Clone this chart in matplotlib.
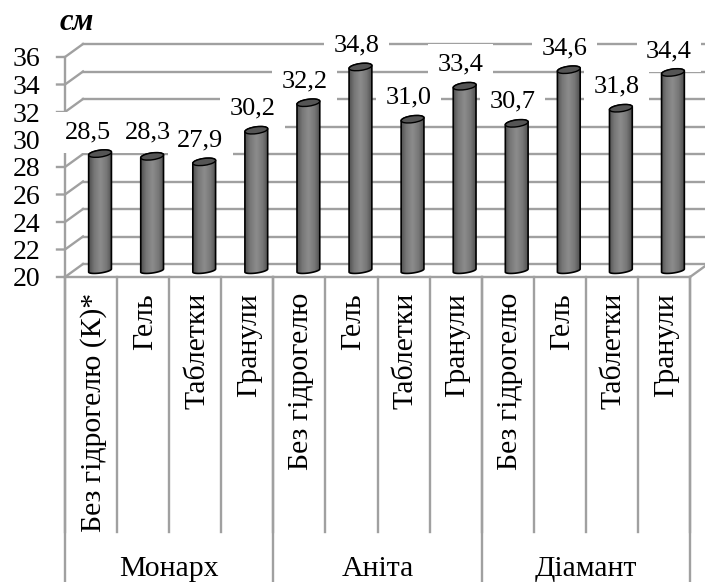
import numpy as np
import matplotlib
matplotlib.use('Agg')
import matplotlib.pyplot as plt
from matplotlib.patches import Ellipse, Polygon
from matplotlib.transforms import IdentityTransform, ScaledTranslation
from matplotlib.colors import LinearSegmentedColormap

# довжина пагонів за сортами і формами гідрогелю
groups = ['Монарх', 'Аніта', 'Діамант']
group_size = [4, 4, 4]
categories = ['Без гідрогелю (К)*', 'Гель', 'Таблетки', 'Гранули',
              'Без гідрогелю', 'Гель', 'Таблетки', 'Гранули',
              'Без гідрогелю', 'Гель', 'Таблетки', 'Гранули']
values = [28.5, 28.3, 27.9, 30.2, 32.2, 34.8, 31.0, 33.4, 30.7, 34.6, 31.8, 34.4]
y_ticks = [20, 22, 24, 26, 28, 30, 32, 34, 36]

W, H = 705, 582
GRAY = '#a0a0a0'
LW = 1.7

plt.rcParams['font.family'] = ['Liberation Serif', 'DejaVu Serif']

fig = plt.figure(figsize=(W / 100, H / 100), dpi=100)
# передня площина осей, все інше зсувається від неї
ax = fig.add_axes([65 / W, (H - 277) / H, 625 / W, 220 / H])
ax.set_xlim(0, len(values))
ax.set_ylim(20, 36)
ax.patch.set_visible(False)

for side in ['top', 'right']:
    ax.spines[side].set_visible(False)
for side in ['left', 'bottom']:
    ax.spines[side].set_color(GRAY)
    ax.spines[side].set_linewidth(LW)
    ax.spines[side].set_zorder(2)

# зсув задньої стінки
back = ax.transData + ScaledTranslation(18 / 100, 13 / 100, fig.dpi_scale_trans)
for t in y_ticks:
    ax.plot([0, len(values) + 0.05], [t, t], color=GRAY, lw=LW, transform=back,
            clip_on=False, zorder=1)
    # діагональ бічної стінки та риска поділки
    p0 = ax.transData.transform((0, t))
    ax.plot([p0[0] - 8, p0[0], p0[0] + 18], [p0[1], p0[1], p0[1] + 13], color=GRAY, lw=LW,
            transform=IdentityTransform(), clip_on=False, zorder=1)
pr = ax.transData.transform((len(values), 20))
ax.plot([pr[0], pr[0] + 18], [pr[1], pr[1] + 13], color=GRAY, lw=LW,
        transform=IdentityTransform(), clip_on=False, zorder=1)

# циліндри малюються в пікселях від точок осей
cyl = LinearSegmentedColormap.from_list('cyl', ['#4a4a4a', '#777777', '#8c8c8c', '#777777', '#4a4a4a'])
grad = np.linspace(0, 1, 64).reshape(1, -1)
A, B = 11.5, 3.4
TILT = np.deg2rad(8)


def ell_pts(cx, cy, t, b=B):
    x = A * np.cos(t)
    y = b * np.sin(t)
    return np.c_[cx + x * np.cos(TILT) - y * np.sin(TILT),
                 cy + x * np.sin(TILT) + y * np.cos(TILT)]


for i, v in enumerate(values):
    cx, top = ax.transData.transform((i + 0.5, v))
    _, base = ax.transData.transform((i + 0.5, 20))
    cx += 9
    top += 6.5
    base += 6.5
    pts = np.vstack([ell_pts(cx, base, np.linspace(np.pi, 2 * np.pi, 30), 2.5),
                     ell_pts(cx, top, np.linspace(0, np.pi, 30))])
    body = Polygon(pts, closed=True, transform=IdentityTransform(), facecolor='none',
                   edgecolor='black', lw=1.2, zorder=3, clip_on=False)
    ax.add_patch(body)
    im = ax.imshow(grad, extent=(cx - A - 1, cx + A + 1, base - 6, top + 6), aspect='auto',
                   cmap=cyl, transform=IdentityTransform(), zorder=2.9)
    im.set_clip_path(body)
    ax.add_patch(Ellipse((cx, top), 2 * A, 2 * B, angle=8, transform=IdentityTransform(),
                         facecolor='#555555', edgecolor='black', lw=1.0, zorder=3.1, clip_on=False))

# підписи значень: білі плашки під стовпчиками, текст над ними
for i, v in enumerate(values):
    dx = -3 if i == 0 else 5
    dy = 28
    if i == 0:
        dy = 27.5
    if i == 1:
        dy = 30
    text = f'{v:.1f}'.replace('.', ',')
    ax.annotate(text, xy=(i + 0.5, v), xytext=(dx, dy), textcoords='offset pixels',
                ha='center', va='center', fontsize=19, color='none',
                bbox=dict(boxstyle='square,pad=0.36', fc='white', ec='none'), zorder=2.5,
                annotation_clip=False)
    ax.annotate(text, xy=(i + 0.5, v), xytext=(dx, dy), textcoords='offset pixels',
                ha='center', va='center', fontsize=19, color='black', zorder=6,
                annotation_clip=False)

ax.set_xlim(0, len(values))
ax.set_ylim(20, 36)

ax.set_yticks(y_ticks, [str(t) for t in y_ticks])
ax.tick_params(axis='y', length=0, labelsize=20, pad=18)
ax.yaxis.set_zorder(10)

ax.set_xticks(np.arange(len(values)) + 0.5, categories, rotation=90)
ax.tick_params(axis='x', length=0, labelsize=21.4, pad=11.5)
for lbl in ax.get_xticklabels():
    lbl.set_transform(lbl.get_transform() + ScaledTranslation(2 / 100, 0, fig.dpi_scale_trans))

# розділювачі категорій і груп під віссю
xax = ax.get_xaxis_transform()
px = 220.0
for i in range(len(values) + 1):
    ax.plot([i, i], [0, -255 / px], color=GRAY, lw=LW, transform=xax, clip_on=False, zorder=1)
start = 0
for name, n in zip(groups, group_size):
    ax.plot([start, start], [0, -305 / px], color=GRAY, lw=LW, transform=xax, clip_on=False, zorder=1)
    ax.text(start + n / 2, -292.5 / px, name, transform=xax, ha='center', va='center', fontsize=21.4)
    start += n
ax.plot([start, start], [0, -305 / px], color=GRAY, lw=LW, transform=xax, clip_on=False, zorder=1)

fig.text(77 / W, (H - 22) / H, 'см', fontsize=22, fontweight='bold', fontstyle='italic',
         ha='center', va='center')

fig.savefig('out.png', dpi=100)
